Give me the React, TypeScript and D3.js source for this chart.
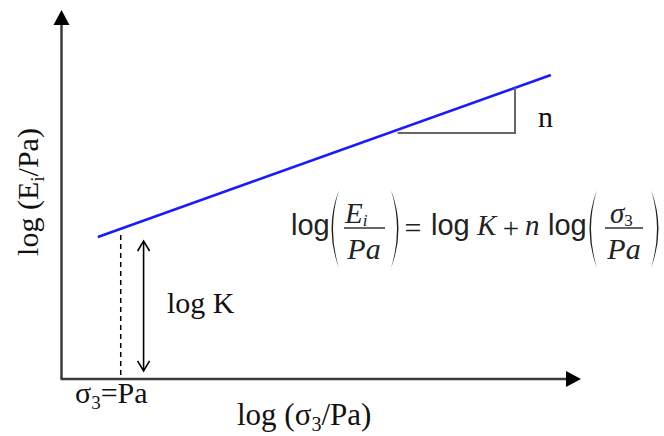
import React from "react";
import * as d3 from "d3";

// Schematic of the hyperbolic-modulus relation in log–log space
const W = 664;
const H = 436;

// Axis extents (abstract log units)
const xExtent = [0, 10];
const yExtent = [0, 10];

// Fitted line: log(σ3/Pa) -> log(Ei/Pa)
const lineLogS = [0.7, 9.42];
const lineLogE = [3.85, 8.24];

// Reference point σ3 = Pa and the log K interval
const paLogS = [1.14];
const paTop = [3.9];
const logKX = [1.58];
const logKRange = [0.22, 3.74];

// Slope triangle
const triX = [6.47, 8.73];
const triY = [6.67];

const SERIF = "'Liberation Serif', 'Times New Roman', serif";
const SANS = "'Liberation Sans', Arial, sans-serif";

export default function App() {
  const x = d3.scaleLinear().domain(xExtent).range([61.5, 581]);
  const y = d3.scaleLinear().domain(yExtent).range([379, 10]);

  const lineGen = d3
    .line<[number, number]>()
    .x((d) => x(d[0]))
    .y((d) => y(d[1]));

  const fitted: [number, number][] = lineLogS.map((s, i) => [s, lineLogE[i]]);
  const slope = (lineLogE[1] - lineLogE[0]) / (lineLogS[1] - lineLogS[0]);
  const lineAt = (s: number) => lineLogE[0] + slope * (s - lineLogS[0]);

  const x0 = x(xExtent[0]);
  const y0 = y(yExtent[0]);
  const xTip = x(xExtent[1]);
  const yTip = y(yExtent[1]);

  const ax = x(logKX[0]);
  const aTop = y(logKRange[1]);
  const aBot = y(logKRange[0]);

  // big parenthesis as a filled crescent
  const paren = (cx: number, top: number, bot: number, dir: number) => {
    const mid = (top + bot) / 2;
    const o = 15 * dir;
    const i = 12 * dir;
    return `M${cx},${top} Q${cx - o},${mid} ${cx},${bot} Q${cx - i},${mid} ${cx},${top} Z`;
  };

  return (
    <svg width={W} height={H} style={{ position: "absolute", left: 0, top: 0, background: "#fff" }}>
      {/* axes */}
      <line x1={x0} y1={y0} x2={x0} y2={yTip + 12} stroke="#3a3a3a" strokeWidth={2.5} />
      <line x1={x0 - 1} y1={y0} x2={xTip - 12} y2={y0} stroke="#3a3a3a" strokeWidth={2.5} />
      <path d={`M${x0},${yTip} L${x0 - 8},${yTip + 15} L${x0 + 8},${yTip + 15} Z`} fill="#000" />
      <path d={`M${xTip},${y0} L${xTip - 15},${y0 - 8} L${xTip - 15},${y0 + 8} Z`} fill="#000" />

      {/* fitted line */}
      <path d={lineGen(fitted) || ""} fill="none" stroke="#1a1aff" strokeWidth={2.6} />

      {/* slope triangle */}
      <path
        d={`M${x(triX[0])},${y(triY[0])} L${x(triX[1])},${y(triY[0])} L${x(triX[1])},${y(lineAt(triX[1]))}`}
        fill="none"
        stroke="#666"
        strokeWidth={2}
      />
      <text x={x(triX[1]) + 23} y={127} fontFamily={SERIF} fontSize={30} fill="#111">
        n
      </text>

      {/* σ3 = Pa marker */}
      <line
        x1={x(paLogS[0])}
        y1={y(paTop[0])}
        x2={x(paLogS[0])}
        y2={y0}
        stroke="#000"
        strokeWidth={1.5}
        strokeDasharray="5,4"
      />

      {/* log K double arrow */}
      <line x1={ax} y1={aTop + 1} x2={ax} y2={aBot - 1} stroke="#000" strokeWidth={1.6} />
      <path d={`M${ax - 6},${aTop + 10} L${ax},${aTop} L${ax + 6},${aTop + 10}`} fill="none" stroke="#000" strokeWidth={1.6} />
      <path d={`M${ax - 6},${aBot - 10} L${ax},${aBot} L${ax + 6},${aBot - 10}`} fill="none" stroke="#000" strokeWidth={1.6} />
      <text x={167} y={313} fontFamily={SERIF} fontSize={30} fill="#111">
        log K
      </text>

      {/* axis labels */}
      <text x={75} y={403} fontFamily={SERIF} fontSize={30} fill="#111">
        σ<tspan fontSize={19} dy={6}>3</tspan>
        <tspan dy={-6}>=Pa</tspan>
      </text>
      <text x={237} y={425} fontFamily={SERIF} fontSize={31} fill="#111">
        log (σ<tspan fontSize={20} dy={6}>3</tspan>
        <tspan dy={-6}>/Pa)</tspan>
      </text>
      <text
        transform="translate(38,192) rotate(-90)"
        textAnchor="middle"
        fontFamily={SERIF}
        fontSize={30}
        fill="#111"
      >
        log (E<tspan fontSize={19} dy={6}>i</tspan>
        <tspan dy={-6}>/Pa)</tspan>
      </text>

      {/* equation */}
      <g fill="#222">
        <text x={291} y={235} fontFamily={SANS} fontSize={29}>log</text>
        <path d={paren(339, 190, 268, 1)} />
        <text x={345} y={223} fontFamily={SERIF} fontStyle="italic" fontSize={29}>
          E<tspan fontSize={17} dy={3}>i</tspan>
        </text>
        <line x1={344} y1={228} x2={385} y2={228} stroke="#333" strokeWidth={1.5} />
        <text x={364} y={259} textAnchor="middle" fontFamily={SERIF} fontStyle="italic" fontSize={30}>Pa</text>
        <path d={paren(391, 190, 268, -1)} />
        <text x={413} y={238} textAnchor="middle" fontFamily={SERIF} fontSize={30}>=</text>
        <text x={431} y={235} fontFamily={SANS} fontSize={29}>log</text>
        <text x={477} y={235} fontFamily={SERIF} fontStyle="italic" fontSize={29}>K</text>
        <text x={511} y={238} textAnchor="middle" fontFamily={SERIF} fontSize={29}>+</text>
        <text x={525} y={235} fontFamily={SERIF} fontStyle="italic" fontSize={29}>n</text>
        <text x={548} y={235} fontFamily={SANS} fontSize={29}>log</text>
        <path d={paren(597, 190, 268, 1)} />
        <text x={610} y={223} fontFamily={SERIF} fontStyle="italic" fontSize={29}>
          σ<tspan fontSize={17} dy={3} fontStyle="normal">3</tspan>
        </text>
        <line x1={605} y1={228} x2={643} y2={228} stroke="#333" strokeWidth={1.5} />
        <text x={624} y={259} textAnchor="middle" fontFamily={SERIF} fontStyle="italic" fontSize={30}>Pa</text>
        <path d={paren(651, 190, 268, -1)} />
      </g>
    </svg>
  );
}
